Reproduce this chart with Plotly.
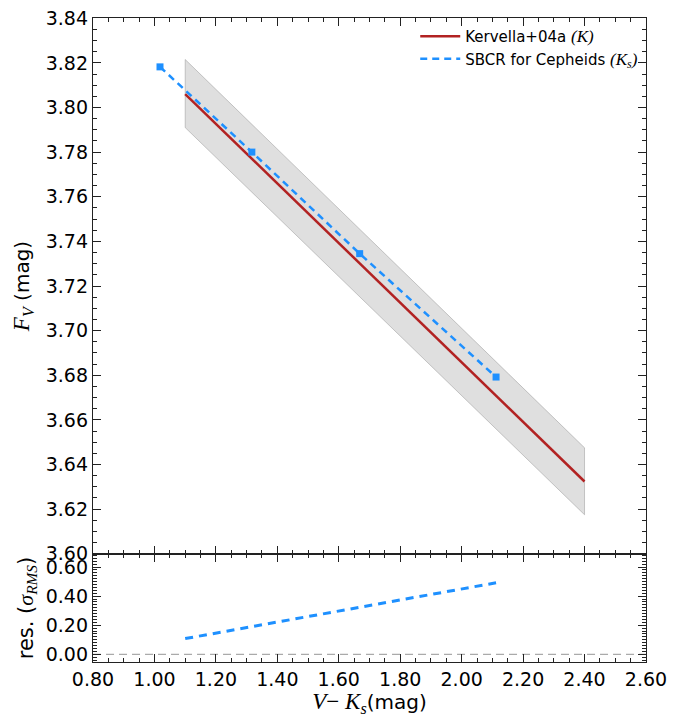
import plotly.graph_objects as go

# ---- data ----
kerv_x = [1.10, 2.40]
kerv_y = [3.8060, 3.6324]
band_x = [1.10, 2.40]
band_upper = [3.8215, 3.6475]
band_lower = [3.7910, 3.6175]

sbcr_x = [1.018, 1.317, 1.668, 2.112]
sbcr_y = [3.8182, 3.7800, 3.7345, 3.6792]

res_x = [1.10, 1.317, 1.668, 2.112]
res_y = [0.108, 0.190, 0.322, 0.492]

zero_x = [0.80, 2.60]
zero_y = [0.0, 0.0]

main_ticks = [3.60, 3.62, 3.64, 3.66, 3.68, 3.70, 3.72, 3.74, 3.76, 3.78, 3.80, 3.82, 3.84]
res_ticks = [0.0, 0.2, 0.4, 0.6]
x_ticks = [0.8, 1.0, 1.2, 1.4, 1.6, 1.8, 2.0, 2.2, 2.4, 2.6]

BLUE = "#1e90ff"
RED = "#b22222"
SANS = "DejaVu Sans"

fig = go.Figure()

# band polygon
poly_x = band_x + band_x[::-1] + [band_x[0]]
poly_y = band_upper + band_lower[::-1] + [band_upper[0]]
fig.add_trace(go.Scatter(x=poly_x, y=poly_y, mode="lines", fill="toself",
                         fillcolor="rgba(128,128,128,0.25)",
                         line=dict(color="rgba(128,128,128,0.4)", width=1),
                         showlegend=False, hoverinfo="skip", xaxis="x2", yaxis="y"))

fig.add_trace(go.Scatter(x=kerv_x, y=kerv_y, mode="lines",
                         line=dict(color=RED, width=2.5),
                         name="Kervella+04a <span style=\"font-family:Liberation Serif;font-size:17px\"><i>(K)</i></span>",
                         xaxis="x2", yaxis="y"))
fig.add_trace(go.Scatter(x=sbcr_x, y=sbcr_y, mode="lines",
                         line=dict(color=BLUE, width=2.5, dash="7px,5px"),
                         name="SBCR for Cepheids <span style=\"font-family:Liberation Serif;font-size:17px\"><i>(K<sub>s</sub>)</i></span>",
                         xaxis="x2", yaxis="y"))
fig.add_trace(go.Scatter(x=sbcr_x, y=sbcr_y, mode="markers",
                         marker=dict(color=BLUE, size=7, symbol="square"),
                         showlegend=False, xaxis="x2", yaxis="y"))

# residual panel
fig.add_trace(go.Scatter(x=zero_x, y=zero_y, mode="lines",
                         line=dict(color="#aaaaaa", width=1.2, dash="8px,5px"),
                         showlegend=False, xaxis="x", yaxis="y2"))
fig.add_trace(go.Scatter(x=res_x, y=res_y, mode="lines",
                         line=dict(color=BLUE, width=3, dash="8px,6px"),
                         showlegend=False, xaxis="x", yaxis="y2"))

# page body has an 8px margin: shrink figure so the plot lands where the reference has it
W, H = 684, 709
ml, mr, mt, mb = 85, 46, 10, 55
ph = H - mt - mb
split = (662 - 554) / ph

common = dict(showline=True, linecolor="#222222", linewidth=1.3, mirror="allticks",
              ticks="inside", ticklen=8, tickwidth=1.2, tickcolor="#222222",
              showgrid=False, zeroline=False, automargin=False,
              ticklabeloverflow="allow",
              tickfont=dict(family=SANS, size=19, color="black"))

fig.update_layout(
    width=W, height=H,
    margin=dict(l=ml, r=mr, t=mt, b=mb),
    paper_bgcolor="white", plot_bgcolor="white",
    showlegend=True,
    legend=dict(x=0.995, y=0.997, xanchor="right", yanchor="top",
                bgcolor="rgba(0,0,0,0)", borderwidth=0,
                font=dict(family=SANS, size=15, color="black"),
                tracegroupgap=2, itemwidth=40),
    xaxis=dict(domain=[0, 1], anchor="y2", range=[0.7999, 2.6001],
               tickvals=x_ticks, ticktext=[f"{v:.2f}" for v in x_ticks],
               minor=dict(ticks="inside", ticklen=4, dtick=0.05, tick0=0.8, tickcolor="#222222"),
               title=dict(text="<span style=\"font-family:Liberation Serif;font-size:23px\"><i>V</i>− <i>K<sub>s</sub></i></span>(mag)",
                          font=dict(family=SANS, size=20, color="black"), standoff=6),
               **common),
    xaxis2=dict(domain=[0, 1], anchor="y", matches="x",
                tickvals=x_ticks, showticklabels=False,
                minor=dict(ticks="inside", ticklen=4, dtick=0.05, tick0=0.8, tickcolor="#222222"),
                **common),
    yaxis=dict(domain=[split, 1], anchor="x2", range=[3.5999, 3.8401],
               tickvals=main_ticks, ticktext=[f"{v:.2f}" for v in main_ticks],
               minor=dict(ticks="inside", ticklen=4, dtick=0.005, tick0=3.6, tickcolor="#222222"),
               title=dict(text="<span style=\"font-family:Liberation Serif;font-size:23px\"><i>F<sub>V</sub></i></span> (mag)",
                          font=dict(family=SANS, size=20, color="black"), standoff=10),
               **common),
    yaxis2=dict(domain=[0, split], anchor="x", range=[-0.053, 0.69],
                tickvals=res_ticks, ticktext=[f"{v:.2f}" for v in res_ticks],
                minor=dict(ticks="inside", ticklen=4, dtick=0.02, tick0=0, tickcolor="#222222"),
                title=dict(text="res. (<span style=\"font-family:Liberation Serif;font-size:22px\"><i>σ<sub>RMS</sub></i></span>)",
                           font=dict(family=SANS, size=21, color="black"), standoff=6),
                **common),
)

fig.write_html("out.html")
